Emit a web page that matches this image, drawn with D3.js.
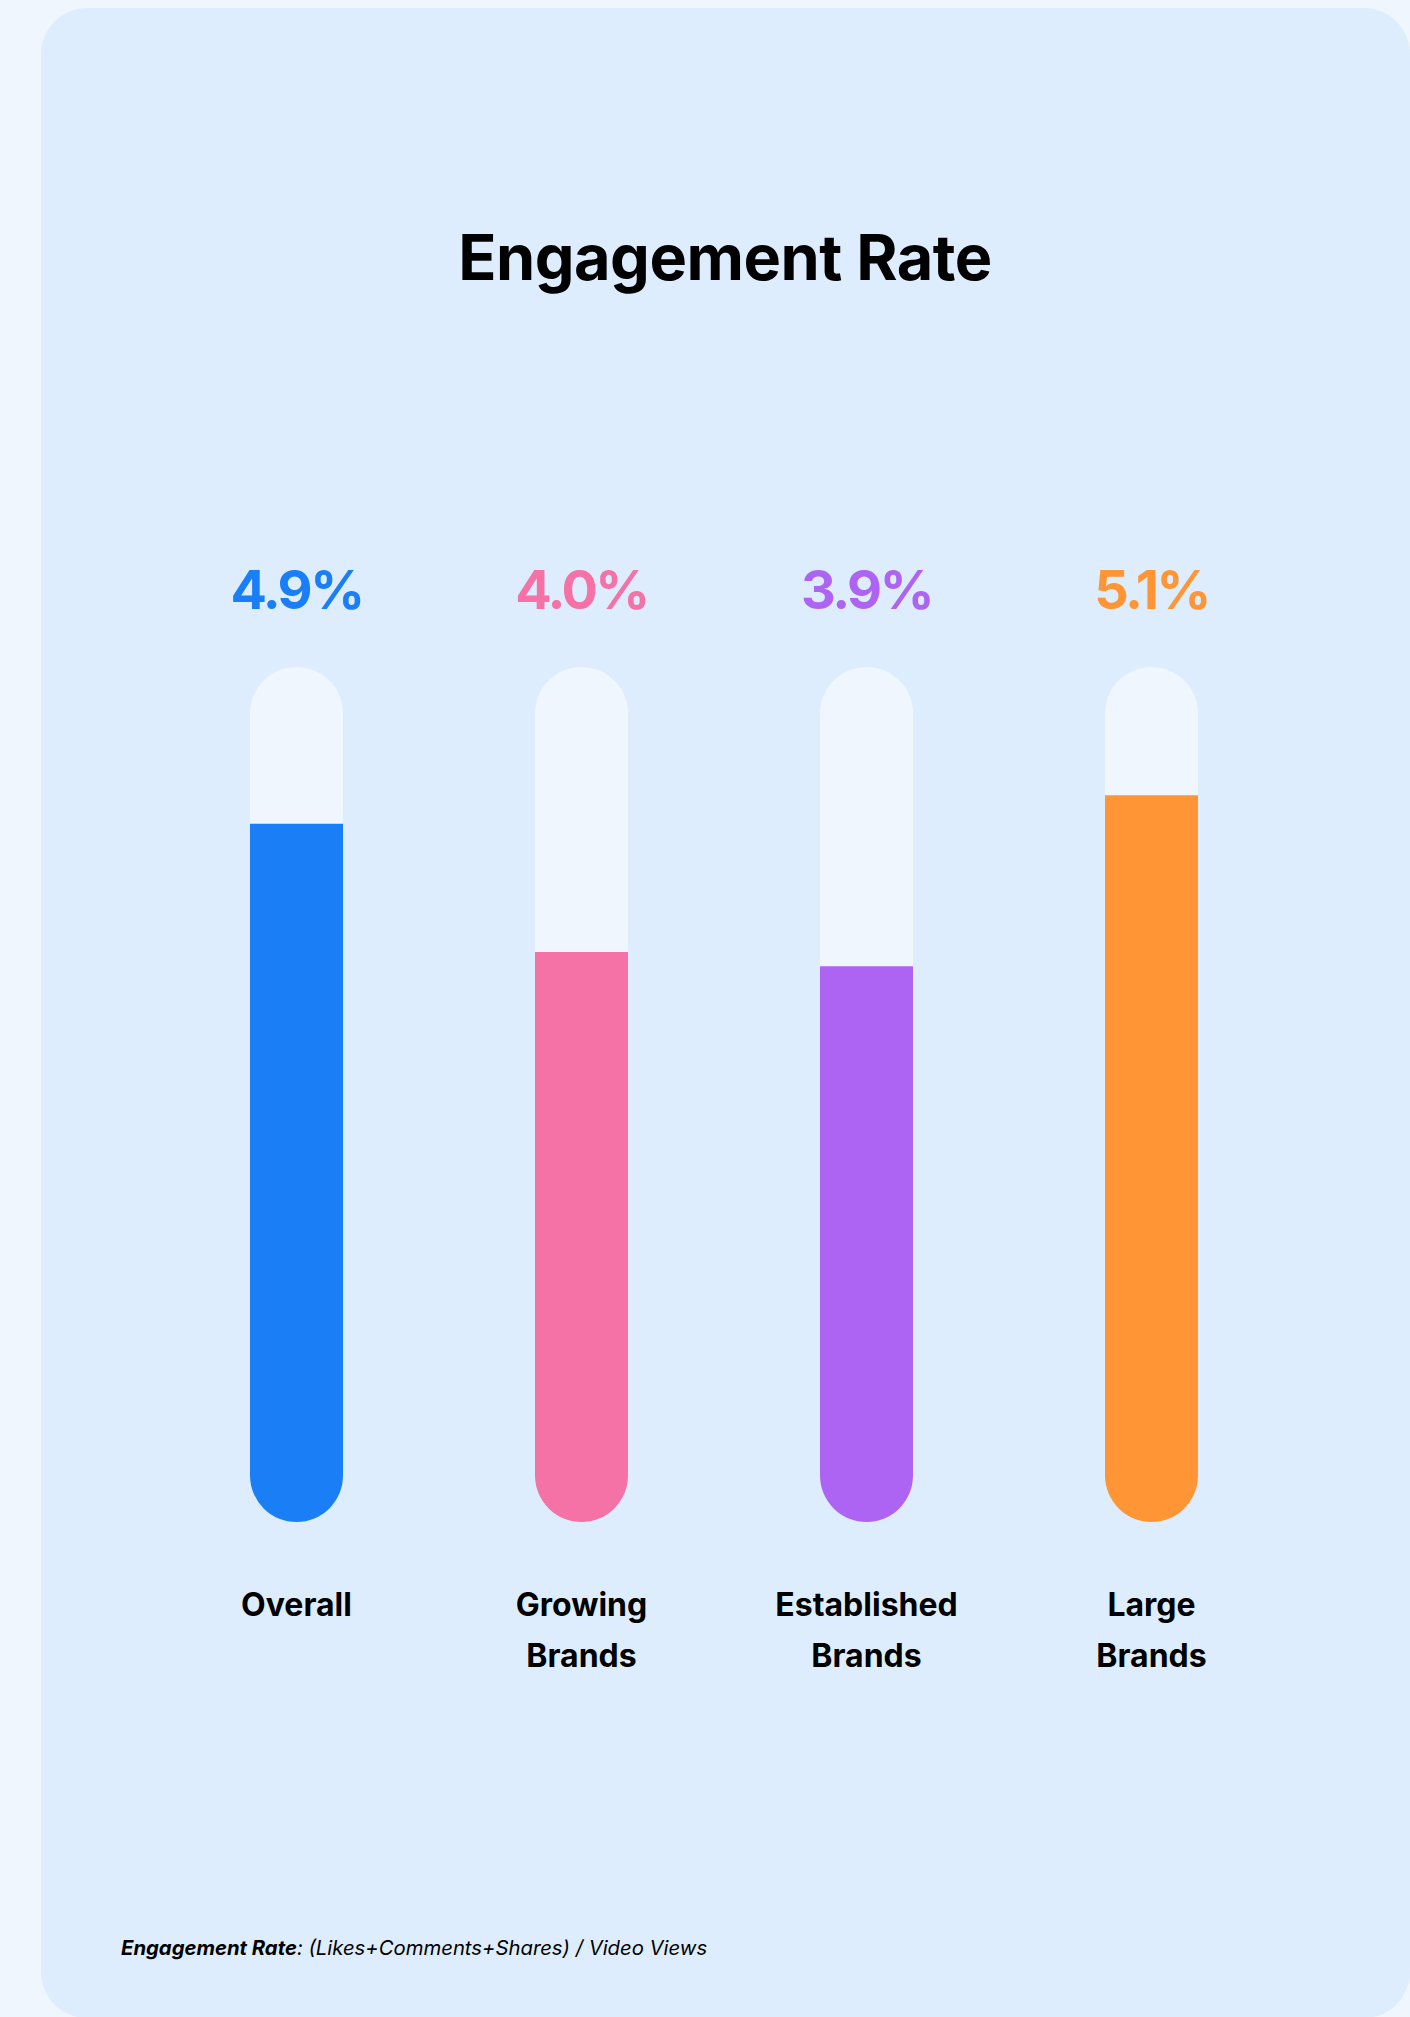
<!DOCTYPE html>
<html>
<head>
<meta charset="utf-8">
<script src="https://cdn.jsdelivr.net/npm/d3@7"></script>
<style>
  html, body { margin: 0; padding: 0; background: #eff6fe; }
  svg { display: block; font-family: Inter, "Noto Sans", sans-serif; }
</style>
</head>
<body>
<div id="main"></div>
<script>
const categories = ["Overall", "Growing Brands", "Established Brands", "Large Brands"];
const labelLines = [["Overall"], ["Growing", "Brands"], ["Established", "Brands"], ["Large", "Brands"]];
const rates = [4.9, 4.0, 3.9, 5.1];
const rateLabels = ["4.9%", "4.0%", "3.9%", "5.1%"];
const colors = ["#1a7ff6", "#f472a6", "#ae64f3", "#ff9534"];

const w = 1410;
const h = 2017;
const barW = 93;

const svg = d3.select("#main").append("svg")
  .attr("width", w)
  .attr("height", h);

// card, rounded on the top-right and bottom-left where they show
svg.append("rect")
  .attr("x", 41)
  .attr("y", 8)
  .attr("width", w - 41)
  .attr("height", h - 8 + 1)
  .attr("rx", 46)
  .attr("fill", "#deedfd");

svg.append("text")
  .attr("x", 725)
  .attr("y", 280)
  .attr("text-anchor", "middle")
  .attr("font-size", 63)
  .attr("font-weight", 700)
  .attr("letter-spacing", -0.5)
  .attr("fill", "#000")
  .text("Engagement Rate");

const x = d3.scalePoint()
  .domain(categories)
  .range([296.5, 1151.5]);

const y = d3.scaleLinear()
  .domain([0, 6])
  .range([1522, 667]);

const defs = svg.append("defs");

const bars = svg.selectAll("g.bar")
  .data(categories)
  .enter()
  .append("g")
  .attr("class", "bar");

bars.each(function(d, i) {
  defs.append("clipPath")
    .attr("id", "clip" + i)
    .append("rect")
    .attr("x", x(d) - barW / 2)
    .attr("y", y(6))
    .attr("width", barW)
    .attr("height", y(0) - y(6))
    .attr("rx", barW / 2);
});

bars.append("rect")
  .attr("x", d => x(d) - barW / 2)
  .attr("y", y(6))
  .attr("width", barW)
  .attr("height", y(0) - y(6))
  .attr("rx", barW / 2)
  .attr("fill", "#eff6fe");

bars.append("rect")
  .attr("clip-path", (d, i) => "url(#clip" + i + ")")
  .attr("x", d => x(d) - barW / 2)
  .attr("y", (d, i) => y(rates[i]))
  .attr("width", barW)
  .attr("height", (d, i) => y(0) - y(rates[i]))
  .attr("fill", (d, i) => colors[i]);

bars.append("text")
  .attr("x", d => x(d))
  .attr("y", 609)
  .attr("text-anchor", "middle")
  .attr("font-size", 54)
  .attr("font-weight", 700)
  .attr("letter-spacing", -2.5)
  .attr("fill", (d, i) => colors[i])
  .text((d, i) => rateLabels[i]);

bars.append("text")
  .attr("text-anchor", "middle")
  .attr("font-size", 32)
  .attr("font-weight", 700)
  .attr("fill", "#000")
  .selectAll("tspan")
  .data((d, i) => labelLines[i].map(t => ({ t: t, cx: x(d) })))
  .enter()
  .append("tspan")
  .attr("x", t => t.cx)
  .attr("y", (t, j) => 1616 + j * 51)
  .text(t => t.t);

const note = svg.append("text")
  .attr("x", 121)
  .attr("y", 1955)
  .attr("font-size", 20.3)
  .attr("font-style", "italic")
  .attr("fill", "#000");

note.append("tspan")
  .attr("font-weight", 700)
  .text("Engagement Rate");

note.append("tspan")
  .text(": (Likes+Comments+Shares) / Video Views");
</script>
</body>
</html>
